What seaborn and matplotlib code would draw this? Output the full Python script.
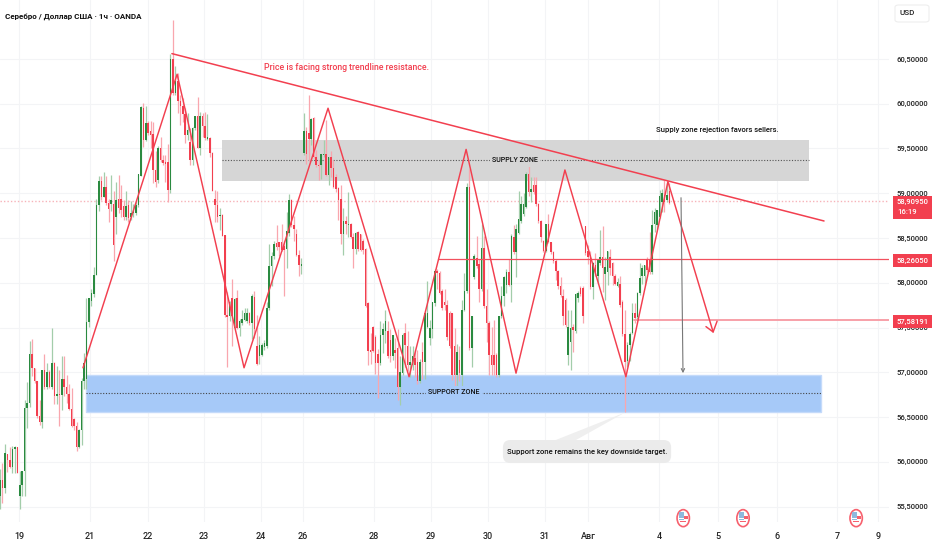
import pandas as pd
import numpy as np
import matplotlib
matplotlib.use('Agg')
import matplotlib.pyplot as plt
from matplotlib.patches import FancyBboxPatch, Ellipse, Rectangle, Polygon
import seaborn as sns

# candles, one per hour
opens = [55.62,55.80,55.71,56.09,56.02,55.94,56.14,56.16,55.62,55.74,55.90,56.60,56.66,57.20,57.05,56.90,56.51,56.44,57.02,56.83,
57.00,56.83,57.10,56.74,56.76,56.75,56.93,56.83,56.76,56.59,56.48,56.40,56.17,56.35,56.90,56.92,57.56,57.80,57.87,58.09,
58.87,59.14,58.96,59.07,58.89,58.88,58.88,58.73,58.94,58.94,58.86,58.74,58.87,58.74,58.78,58.78,58.87,59.19,59.95,59.60,
59.79,59.69,59.66,59.26,59.15,59.50,59.37,59.35,59.35,59.04,60.50,60.12,60.25,60.03,59.97,59.88,59.65,59.57,59.37,59.73,
59.86,59.51,59.86,59.75,59.61,59.62,59.45,58.94,58.87,58.75,58.76,58.53,57.64,57.63,57.83,57.49,57.83,57.49,57.55,57.58,
57.57,57.66,57.55,57.84,57.29,57.18,57.19,57.28,57.29,57.72,58.19,58.30,58.44,58.45,58.45,58.41,58.38,58.56,58.92,58.64,
58.55,58.31,58.19,59.45,59.70,59.67,59.61,59.84,59.40,59.32,59.31,59.43,59.44,59.20,59.40,59.28,59.18,59.06,58.94,58.54,
58.69,58.65,58.66,58.51,58.38,58.57,58.54,58.47,58.38,57.77,57.25,57.51,57.39,57.20,57.10,57.42,57.46,57.46,57.36,57.18,
57.25,57.27,56.84,56.99,57.44,57.29,57.08,57.08,57.16,57.12,56.90,57.23,57.12,57.51,57.38,57.48,57.77,58.13,58.11,57.91,
57.78,57.75,57.66,57.66,57.29,56.97,57.14,56.97,57.70,57.91,59.07,57.27,58.06,58.28,58.21,57.93,58.39,57.74,57.55,57.19,
57.19,57.19,56.97,57.63,57.85,57.98,58.12,57.98,58.51,58.34,58.56,58.69,58.77,58.85,59.22,59.01,59.09,59.09,58.88,58.69,
58.47,58.36,58.66,58.45,58.34,58.24,58.13,57.96,57.85,57.81,57.19,57.34,57.51,57.46,57.83,57.94,57.94,58.63,58.36,58.31,
57.95,58.20,58.08,58.22,58.29,58.10,58.12,58.29,58.22,58.08,57.96,57.99,57.79,57.43,57.13,57.30,57.44,57.66,57.62,57.88,
58.08,58.08,58.26,58.25,58.12,58.66,58.64,58.74,58.90,58.98,58.93,59.02]
highs = [55.92,55.99,56.20,56.09,56.17,56.18,56.18,56.16,55.90,55.90,56.69,56.89,57.35,57.37,57.05,56.90,56.69,57.03,57.20,57.10,
57.02,57.49,57.11,57.07,57.03,57.18,57.18,56.97,56.87,56.82,56.49,56.44,56.37,56.94,57.21,57.83,57.83,57.93,58.18,58.94,
59.19,59.19,59.24,59.19,58.94,59.20,59.02,59.13,59.20,59.09,58.93,59.02,58.93,58.91,58.88,58.91,59.21,59.97,60.01,59.98,
59.81,59.81,59.80,59.47,59.53,59.63,59.43,59.43,59.55,60.56,60.94,60.42,60.34,60.10,60.06,59.95,59.90,59.73,59.74,59.86,
60.08,59.91,59.90,59.91,59.88,59.63,59.46,59.04,59.02,58.83,58.77,58.53,57.90,57.80,58.04,57.83,57.92,57.59,57.70,57.72,
57.72,57.67,57.87,57.91,57.64,57.40,57.33,57.36,57.78,58.43,58.34,58.47,58.64,58.46,58.66,58.47,58.79,58.99,58.94,58.75,
58.60,58.37,58.28,59.90,59.74,60.10,59.84,59.85,59.48,59.37,59.44,59.59,59.82,59.40,59.47,59.37,59.22,59.07,59.09,58.84,
58.75,59.01,58.67,58.56,58.57,58.58,58.55,58.49,58.39,57.78,57.44,57.52,57.42,57.26,57.57,57.55,57.70,57.57,57.48,57.42,
57.38,57.48,57.18,57.44,57.55,57.46,57.29,57.29,57.25,57.25,57.15,57.34,57.66,58.02,57.58,57.78,58.15,58.15,58.13,57.93,
57.93,57.81,57.68,57.66,57.49,57.32,57.29,57.81,58.11,59.12,59.27,57.63,58.32,58.52,58.26,58.66,58.52,57.93,57.57,57.51,
57.58,57.21,57.63,57.96,58.07,58.15,58.26,58.54,58.64,58.66,59.03,58.97,59.00,59.24,59.36,59.18,59.18,59.18,58.89,58.70,
58.48,58.66,58.77,58.46,58.36,58.26,58.14,58.06,57.93,57.83,57.70,57.70,57.54,57.88,57.91,57.96,57.96,58.63,58.42,58.35,
58.23,58.33,58.25,58.59,58.63,58.29,58.36,58.38,58.23,58.10,58.05,58.07,57.81,57.69,57.34,57.45,57.77,57.77,57.90,58.22,
58.20,58.20,58.29,58.57,58.81,58.83,58.81,59.04,59.05,59.15,59.13,59.11]
lows = [55.47,55.54,55.65,55.89,55.93,55.88,55.87,55.87,55.47,55.62,55.62,56.38,56.61,56.96,56.88,56.49,56.41,56.38,56.81,56.81,
56.82,56.81,56.64,56.64,56.40,56.58,56.73,56.66,56.58,56.39,56.36,56.12,56.15,56.19,56.81,56.81,57.51,57.74,57.84,58.09,
58.80,58.93,58.96,58.87,58.68,58.80,58.24,58.55,58.78,58.74,58.70,58.70,58.68,58.70,58.74,58.76,58.85,59.19,59.52,59.58,
59.65,59.50,59.11,59.07,59.11,59.35,59.32,59.13,58.90,59.00,60.10,60.10,59.90,59.76,59.80,59.56,59.60,59.32,59.32,59.71,
59.50,59.43,59.63,59.60,59.60,59.41,59.02,58.68,58.68,58.59,58.52,57.62,57.06,57.57,57.29,57.48,57.48,57.40,57.53,57.57,
57.55,57.53,57.37,57.38,57.08,57.09,57.18,57.25,57.27,57.70,57.96,58.26,58.37,58.30,58.36,57.85,58.17,58.52,58.62,58.47,
58.30,58.07,58.10,59.43,59.33,59.36,59.54,59.39,59.29,59.15,59.16,59.41,59.19,59.09,59.18,59.06,59.01,58.70,58.43,58.31,
58.55,58.51,58.50,58.17,58.32,58.36,58.35,58.32,57.73,57.08,57.09,57.23,56.98,56.71,57.08,57.21,57.33,57.16,57.12,57.14,
57.05,56.69,56.63,56.97,57.06,57.01,56.95,57.02,56.95,56.87,56.88,56.92,56.92,57.49,57.30,57.38,57.74,57.93,57.87,57.70,
57.70,57.36,57.27,56.91,56.84,56.82,56.90,56.82,57.68,57.89,57.25,57.06,58.04,58.17,57.78,57.91,57.72,57.34,56.97,56.97,
56.97,56.95,56.95,57.61,57.74,57.89,57.96,57.78,58.32,58.06,58.54,58.67,58.75,58.83,58.97,58.90,58.99,58.86,58.67,58.46,
58.34,58.34,58.44,58.32,58.22,58.03,57.93,57.84,57.53,57.51,57.08,57.03,57.23,57.44,57.78,57.85,57.55,58.31,58.21,57.93,
57.82,58.08,57.99,58.20,57.90,57.81,57.97,58.09,57.97,57.97,57.95,57.73,57.41,56.56,57.06,57.13,57.43,57.55,57.60,57.86,
57.99,57.97,58.12,58.10,58.10,58.57,58.60,58.72,58.79,58.79,58.90,58.88]
closes = [55.80,55.71,56.10,56.02,55.94,56.14,56.16,55.88,55.74,55.90,56.60,56.66,57.20,57.05,56.90,56.51,56.44,57.02,56.83,57.00,
56.83,57.10,56.74,56.76,56.75,56.93,56.83,56.76,56.59,56.40,56.40,56.16,56.35,56.90,57.10,57.56,57.83,57.88,58.09,58.87,
59.14,58.96,59.07,58.89,58.82,58.93,58.42,58.93,58.83,58.81,58.74,58.86,58.72,58.78,58.80,58.87,59.21,59.96,59.60,59.79,
59.67,59.65,59.26,59.13,59.50,59.37,59.34,59.33,59.04,60.50,60.12,60.25,60.03,59.97,59.88,59.65,59.71,59.37,59.73,59.86,
59.51,59.86,59.75,59.62,59.63,59.45,59.03,58.87,58.74,58.76,58.52,57.64,57.62,57.78,57.63,57.82,57.49,57.57,57.59,57.66,
57.66,57.55,57.85,57.48,57.09,57.30,57.31,57.33,57.72,58.19,58.30,58.43,58.40,58.40,58.37,58.37,58.58,58.92,58.64,58.60,
58.31,58.20,58.21,59.69,59.44,59.61,59.83,59.40,59.32,59.30,59.44,59.44,59.20,59.40,59.28,59.07,59.05,58.93,58.54,58.69,
58.66,58.66,58.51,58.38,58.56,58.38,58.37,58.37,57.74,57.24,57.23,57.24,57.10,57.10,57.42,57.48,57.57,57.18,57.18,57.42,
57.21,56.84,57.00,57.42,57.31,57.08,57.12,57.18,57.08,56.90,57.12,57.12,57.66,57.66,57.49,57.78,58.13,58.11,57.88,57.72,
57.75,57.39,57.29,56.97,56.97,57.23,56.99,57.70,57.91,59.07,57.27,57.63,58.30,58.19,57.93,58.39,57.74,57.55,57.19,57.08,
57.08,56.97,57.63,57.85,58.06,58.12,57.98,58.52,58.34,58.60,58.71,58.88,58.88,59.22,59.01,59.05,59.01,58.88,58.69,58.51,
58.36,58.66,58.45,58.34,58.24,58.13,57.96,57.86,57.63,57.53,57.51,57.49,57.47,57.87,57.89,57.87,57.63,58.33,58.29,57.95,
58.22,58.10,58.25,58.29,58.16,58.18,58.35,58.16,58.08,57.99,58.01,57.75,57.43,57.12,57.30,57.43,57.66,57.61,57.88,58.05,
58.16,58.20,58.14,58.12,58.65,58.79,58.81,58.97,59.00,58.90,58.98,58.89]

# drawings, as (bar number, price)
zigzag_bar = [33.6,71.7,98.8,132.8,165.6,188.7,208.9,228.7,253.4,270.4,288.7]
zigzag_price = [57.05,60.33,57.05,59.95,56.95,59.49,56.99,59.26,56.95,59.13,57.45]
trend_bar = [69.6,333.6]
trend_price = [60.56,58.69]
arrow_bar = [285.8,288.7,290.3]
arrow_price = [57.51,57.45,57.57]
target_bar = [275.7,276.5]
target_price = [58.95,56.99]
supply_bar = [89.9,327.5]
supply_price = [59.137,59.595]
support_bar = [34.8,332.4]
support_price = [56.56,56.97]
level_bar = [177.3,256.7]
level_price = [58.2605,57.58191]
last_price = 58.9095
event_bar = [276.6,300.8,346.6]

day_labels = ['19','21','22','23','24','26','28','29','30','31','Авг','4','5','6','7','9']
day_bars = [7.7,36.4,59.9,82.6,105.7,122.7,151.4,174.5,197.6,220.6,238,266.8,290.7,314.6,338.9,355.5]
price_ticks = [55.5,56,56.5,57,57.5,58,58.5,59,59.5,60,60.5]

RED = '#f23f4f'
GREEN = '#2a8a40'

sns.set_theme(style='white')
plt.rcParams['font.family'] = ['Roboto', 'DejaVu Sans']

fig = plt.figure(figsize=(9.32, 5.5), dpi=100)
ax = fig.add_axes([0, 1 - 522 / 550, 889 / 932, 522 / 550])
ax.set_xlim(0, 359.9)
ax.set_ylim(55.327, 61.159)

ax.set_xticks(day_bars)
ax.set_xticklabels(day_labels, fontsize=6.5, color='#222222', fontweight='medium')
ax.set_yticks(price_ticks)
ax.set_yticklabels([('%.5f' % p).replace('.', ',') for p in price_ticks], fontsize=5.5, color='#222222',
                   fontweight='medium')
ax.yaxis.tick_right()
ax.tick_params(axis='y', length=0, pad=5.7)
ax.tick_params(axis='x', length=0, pad=7.5)
ax.grid(True, color='#f3f4f6', lw=0.8)
ax.set_axisbelow(True)
sns.despine(ax=ax, left=True, bottom=True, right=True, top=True)

# zones
ax.add_patch(Rectangle((supply_bar[0], supply_price[0]), supply_bar[1] - supply_bar[0],
                       supply_price[1] - supply_price[0], fc='#d6d6d6', ec='none', zorder=1))
ax.add_patch(Rectangle((support_bar[0], support_price[0]), support_bar[1] - support_bar[0],
                       support_price[1] - support_price[0], fc='#a6c9f8', ec='#c4dafa', lw=1, zorder=1))
ax.plot(supply_bar, [np.mean(supply_price)] * 2, color='#555555', lw=0.8, ls=(0, (1, 1.5)), zorder=2)
ax.plot(support_bar, [np.mean(support_price)] * 2, color='#444444', lw=0.8, ls=(0, (1, 1.5)), zorder=2)

# candles
df = pd.DataFrame({'o': opens, 'h': highs, 'l': lows, 'c': closes})
df['bar'] = df.index
up = df[df.c >= df.o]
down = df[df.c < df.o]
ax.vlines(up.bar, up.l, up.h, color='#a3cdaa', lw=0.9, zorder=3)
ax.vlines(down.bar, down.l, down.h, color='#f9a6ae', lw=0.9, zorder=3)
ax.bar(up.bar, up.c - up.o, bottom=up.o, width=0.62, color=GREEN, lw=0, zorder=4)
ax.bar(down.bar, down.o - down.c, bottom=down.c, width=0.62, color=RED, lw=0, zorder=4)

# last price line
ax.axhline(last_price, color='#f7b3b9', lw=1, ls=(0, (1, 1.5)), zorder=2)

# level lines
ax.plot([level_bar[0], 359.9], [level_price[0]] * 2, color='#f2505e', lw=0.9, zorder=5)
ax.plot([level_bar[1], 359.9], [level_price[1]] * 2, color='#f7a0a8', lw=1.4, zorder=5)

# hand drawn lines
sns.lineplot(x=trend_bar, y=trend_price, ax=ax, color=RED, lw=1.1, estimator=None, sort=False, zorder=6)
sns.lineplot(x=zigzag_bar, y=zigzag_price, ax=ax, color=RED, lw=1.05, estimator=None, sort=False, zorder=6)
sns.lineplot(x=arrow_bar, y=arrow_price, ax=ax, color=RED, lw=1.05, estimator=None, sort=False, zorder=6)
ax.annotate('', xy=(target_bar[1], target_price[1]), xytext=(target_bar[0], target_price[0]),
            arrowprops=dict(arrowstyle='->', color='#777777', lw=0.8, mutation_scale=6, shrinkA=0, shrinkB=0),
            zorder=6)

# callout
ax.add_patch(Polygon([(253, 56.55), (224.7, 56.24), (233, 56.24)], fc='#efefef', ec='none', zorder=2))
ax.add_patch(FancyBboxPatch((203.6, 55.986), 68.1, 0.257, boxstyle='round,pad=0,rounding_size=3',
                            fc='#ebebeb', ec='none', zorder=7, mutation_aspect=0.0276))

ax.text(237.7, 56.11, 'Support zone remains the key downside target.', fontsize=5.5, color='#111111',
        fontweight='medium', ha='center', va='center', zorder=8)
ax.text(140.1, 60.41, 'Price is facing strong trendline resistance.', fontsize=6.3, color=RED,
        fontweight='medium', ha='center', va='center', zorder=8)
ax.text(290.3, 59.71, 'Supply zone rejection favors sellers.', fontsize=5.5, color='#111111',
        fontweight='medium', ha='center', va='center', zorder=8)
ax.text(208.3, np.mean(supply_price), 'SUPPLY ZONE', fontsize=5.1, color='#111111', fontweight='medium',
        ha='center', va='center', zorder=8, bbox=dict(fc='#d6d6d6', ec='none', pad=1.5))
ax.text(183.8, np.mean(support_price) + 0.01, 'SUPPORT ZONE', fontsize=5.1, color='#111111', fontweight='medium',
        ha='center', va='center', zorder=8, bbox=dict(fc='#a6c9f8', ec='none', pad=1.5))
ax.text(2, 60.98, 'Серебро / Доллар США · 1ч · OANDA', fontsize=5.8, fontweight='bold', color='#111111',
        ha='left', va='center', zorder=8)

# event markers
for b in event_bar:
    ax.add_patch(Ellipse((b, 55.37), 5, 0.19, fc='white', ec='#f7616e', lw=1.2, zorder=7, clip_on=False))
    ax.add_patch(Rectangle((b - 1.6, 55.37), 2.0, 0.07, fc='#8fb9dd', ec='none', zorder=8))
    ax.add_patch(Rectangle((b - 1.6, 55.345), 1.9, 0.02, fc='#8fb9dd', ec='none', zorder=8))
    ax.add_patch(Rectangle((b + 0.4, 55.36), 1.6, 0.03, fc='#f7616e', ec='none', zorder=8))
    ax.add_patch(Rectangle((b - 1.2, 55.328), 2.4, 0.012, fc='#f7616e', ec='none', zorder=8))

# price labels at right, in figure pixels
def tag(y0, y1, lines):
    fig.patches.append(Rectangle((893 / 932, 1 - y1 / 550), 39 / 932, (y1 - y0) / 550, fc=RED, ec='none',
                                 transform=fig.transFigure))
    for text, y in lines:
        fig.text(897 / 932, 1 - y / 550, text, fontsize=5.5, color='#ffffff', ha='left', va='center', fontweight='medium')

tag(196, 219, [('58,90950', 201.5), ('16:19', 212)])
tag(254, 267, [('58,26050', 260.5)])
tag(315, 328, [('57,58191', 321.5)])

fig.patches.append(FancyBboxPatch((895 / 932, 1 - 22 / 550), 34 / 932, 17 / 550,
                                  boxstyle='round,pad=0,rounding_size=0.004', fc='white', ec='#eeeeee', lw=0.8,
                                  transform=fig.transFigure))
fig.text(907 / 932, 1 - 13 / 550, 'USD', fontsize=5.8, color='#222222', ha='center', va='center', fontweight='medium')

fig.savefig('out.png', dpi=100)
